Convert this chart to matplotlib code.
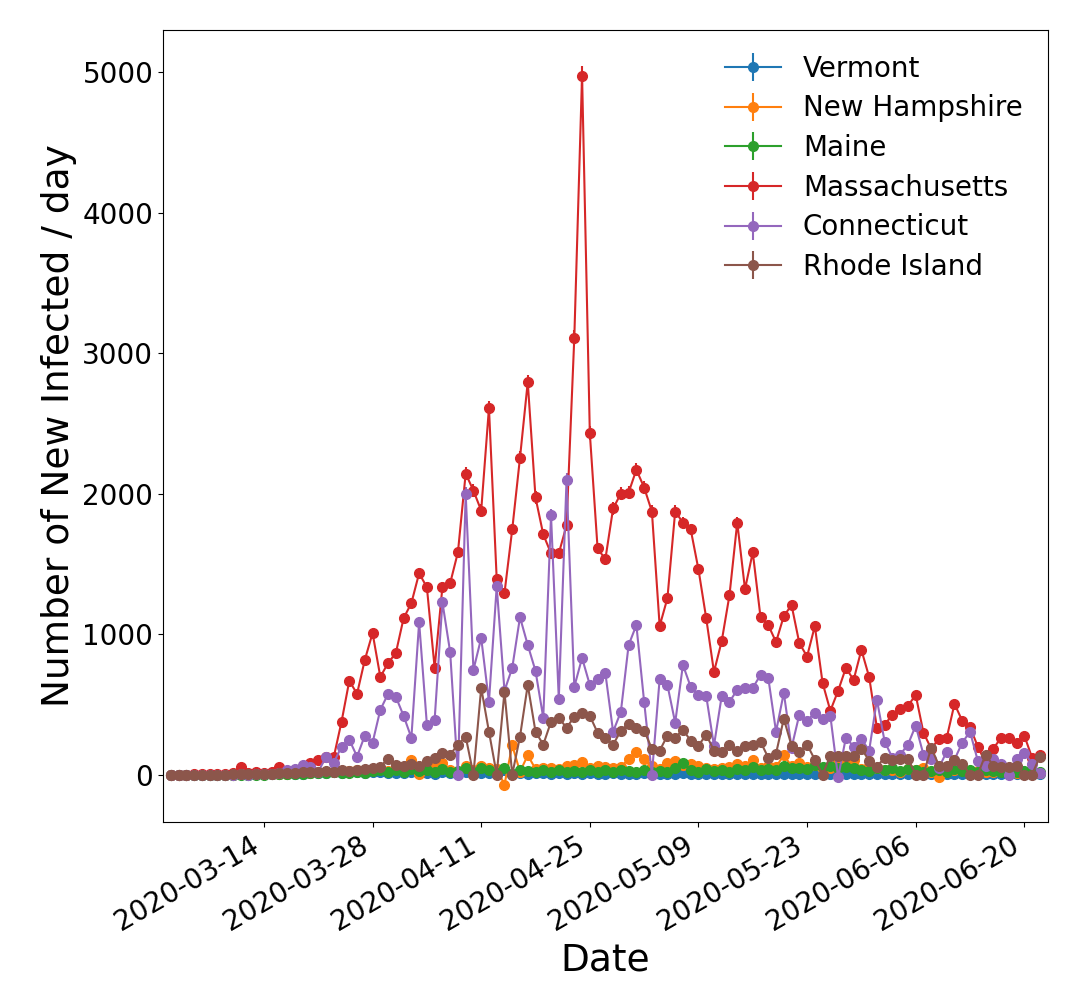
import numpy as np
import pandas as pd
import matplotlib
matplotlib.use('Agg')
from matplotlib import pyplot as plt
import matplotlib.dates as mdates

# daily dates, 2020-03-02 .. 2020-06-22
dates = pd.date_range('2020-03-02', '2020-06-22', freq='D')
tick_dates = pd.date_range('2020-03-14', '2020-06-20', freq='14D')

states = ['Vermont', 'New Hampshire', 'Maine', 'Massachusetts', 'Connecticut', 'Rhode Island']

vermont = [0, 0, 0, 0, 0, 0, 0, 0, 0, 1, 0, 1, 2, 1, 3, 2, 4, 5, 8, 10,
           12, 15, 10, 18, 20, 12, 15, 20, 10, 12, 8, 15, 10, 12, 5, 20, 8, 10, 15, 5,
           10, 8, 12, 30, 5, 10, 6, 8, 10, 5, 8, 6, 10, 5, 8, 4, 6, 8, 5, 6,
           4, 8, 5, 6, 3, 5, 8, 4, 6, 3, 5, 4, 6, 3, 5, 2, 4, 3, 5, 2,
           4, 3, 5, 2, 3, 4, 2, 5, 3, 2, 4, 3, 2, 5, 3, 2, 4, 1, 3, 2,
           4, 2, 1, 3, 2, 1, 3, 2, 1, 2, 3, 1, 2]
new_hampshire = [0, 0, 0, 0, 0, 0, 0, 0, 0, 2, 1, 3, 2, 5, 4, 6, 8, 10, 12, 15,
                 18, 20, 15, 25, 30, 20, 30, 40, 25, 60, 50, 106, 5, 45, 70, 85, 30, 20, 60, 30,
                 60, 50, 40, -71, 208, 20, 137, 40, 50, 50, 40, 60, 70, 90, 50, 60, 55, 45, 55, 110,
                 160, 113, 60, 40, 80, 95, 70, 75, 60, 50, 40, 45, 55, 75, 60, 100, 50, 60, 55, 137,
                 60, 80, 55, 70, 40, 50, 100, 105, 100, 40, 60, 45, 30, 35, 20, 40, 30, 50, 20, -14,
                 45, 30, 35, 20, 25, 15, 20, 25, 15, 10, 20, 15, 10]
maine = [0, 0, 0, 0, 0, 0, 0, 0, 0, 0, 0, 0, 0, 1, 1, 2, 3, 5, 8, 10,
         12, 15, 10, 12, 15, 10, 25, 35, 20, 30, 15, 40, 25, 30, 20, 40, 20, 25, 45, 20,
         50, 35, 10, 45, 5, 30, 25, 15, 35, 20, 30, 15, 25, 20, 30, 15, 35, 15, 30, 25,
         20, 30, 15, 25, 20, 45, 80, 30, 20, 40, 25, 35, 20, 40, 30, 55, 30, 40, 35, 60,
         45, 50, 40, 65, 55, 60, 45, 55, 50, 35, 25, 45, 30, 50, 25, 40, 30, 20, 25, 35,
         20, 40, 25, 30, 20, 35, 25, 20, 30, 15, 25, 20, 15]
massachusetts = [0, 0, 0, 1, 2, 3, 5, 7, 10, 54, 10, 15, 8, 20, 54, 25, 30, 40, 83, 106,
                 125, 125, 376, 667, 575, 816, 1007, 695, 794, 865, 1113, 1220, 1433, 1333, 759, 1333, 1362, 1582, 2142, 2021,
                 1879, 2610, 1390, 1291, 1745, 2255, 2794, 1972, 1709, 1574, 1574, 1773, 3110, 4975, 2430, 1610, 1532, 1894, 2000, 2007,
                 2170, 2043, 1872, 1057, 1255, 1872, 1794, 1745, 1461, 1113, 730, 950, 1277, 1794, 1319, 1582, 1120, 1064, 943, 1128,
                 1206, 936, 840, 1057, 652, 454, 596, 759, 674, 887, 695, 333, 355, 426, 468, 489, 567, 298, 184, 255,
                 262, 503, 383, 340, 199, 85, 184, 262, 262, 227, 277, 120, 142]
connecticut = [0, 0, 0, 0, 0, 0, 0, 0, 0, 1, 0, 2, 1, 5, 10, 30, 40, 66, 55, 20,
               125, 85, 199, 248, 128, 277, 227, 461, 574, 553, 418, 262, 1085, 355, 390, 1227, 872, 0, 2000, 745,
               972, 518, 1340, 596, 759, 1120, 922, 738, 404, 1844, 539, 2099, 624, 830, 638, 681, 723, 305, 447, 922,
               1064, 518, 0, 681, 638, 369, 780, 624, 567, 560, 206, 560, 518, 603, 617, 617, 709, 688, 305, 582,
               191, 426, 383, 440, 397, 418, -20, 262, 199, 255, 170, 532, 234, 120, 142, 213, 348, 142, 113, 50,
               163, 106, 227, 305, 99, 64, 113, 78, 0, 113, 156, 78, 14]
rhode_island = [0, 0, 0, 0, 0, 0, 0, 0, 1, 2, 2, 3, 5, 5, 8, 10, 10, 15, 20, 20,
                25, 20, 30, 25, 35, 40, 45, 57, 113, 71, 64, 78, 64, 99, 120, 156, 142, 213, 270, 0,
                617, 305, 0, 589, 0, 270, 638, 305, 213, 376, 404, 333, 411, 440, 418, 298, 262, 213, 312, 362,
                333, 312, 184, 170, 277, 262, 319, 241, 206, 284, 170, 163, 213, 170, 206, 213, 234, 120, 149, 397,
                206, 163, 213, 106, 0, 135, 135, 135, 135, 184, 99, 57, 120, 106, 113, 113, 0, 0, 191, 64,
                64, 106, 78, 0, 0, 142, 64, 57, 57, 64, 0, 0, 128]

series = [vermont, new_hampshire, maine, massachusetts, connecticut, rhode_island]

fig, ax = plt.subplots(figsize=(10.8, 9.9), dpi=100)
for name, values in zip(states, series):
    values = np.array(values, dtype=float)
    # poisson-like uncertainty
    ax.errorbar(dates, values, yerr=np.sqrt(np.abs(values)), fmt='-o',
                markersize=7, linewidth=1.5, label=name)

ax.set_xlim(pd.Timestamp('2020-03-01'), pd.Timestamp('2020-06-23'))
ax.set_xticks(tick_dates)
ax.xaxis.set_major_formatter(mdates.DateFormatter('%Y-%m-%d'))
plt.setp(ax.get_xticklabels(), rotation=30, ha='right')
ax.tick_params(axis='both', labelsize=20)
ax.set_xlabel('Date', fontsize=27)
ax.set_ylabel('Number of New Infected / day', fontsize=27)
ax.legend(loc='upper right', fontsize=20, frameon=False, labelspacing=0.42)

fig.subplots_adjust(left=0.151, right=0.970, top=0.970, bottom=0.170)
fig.savefig('out.png', dpi=100)
